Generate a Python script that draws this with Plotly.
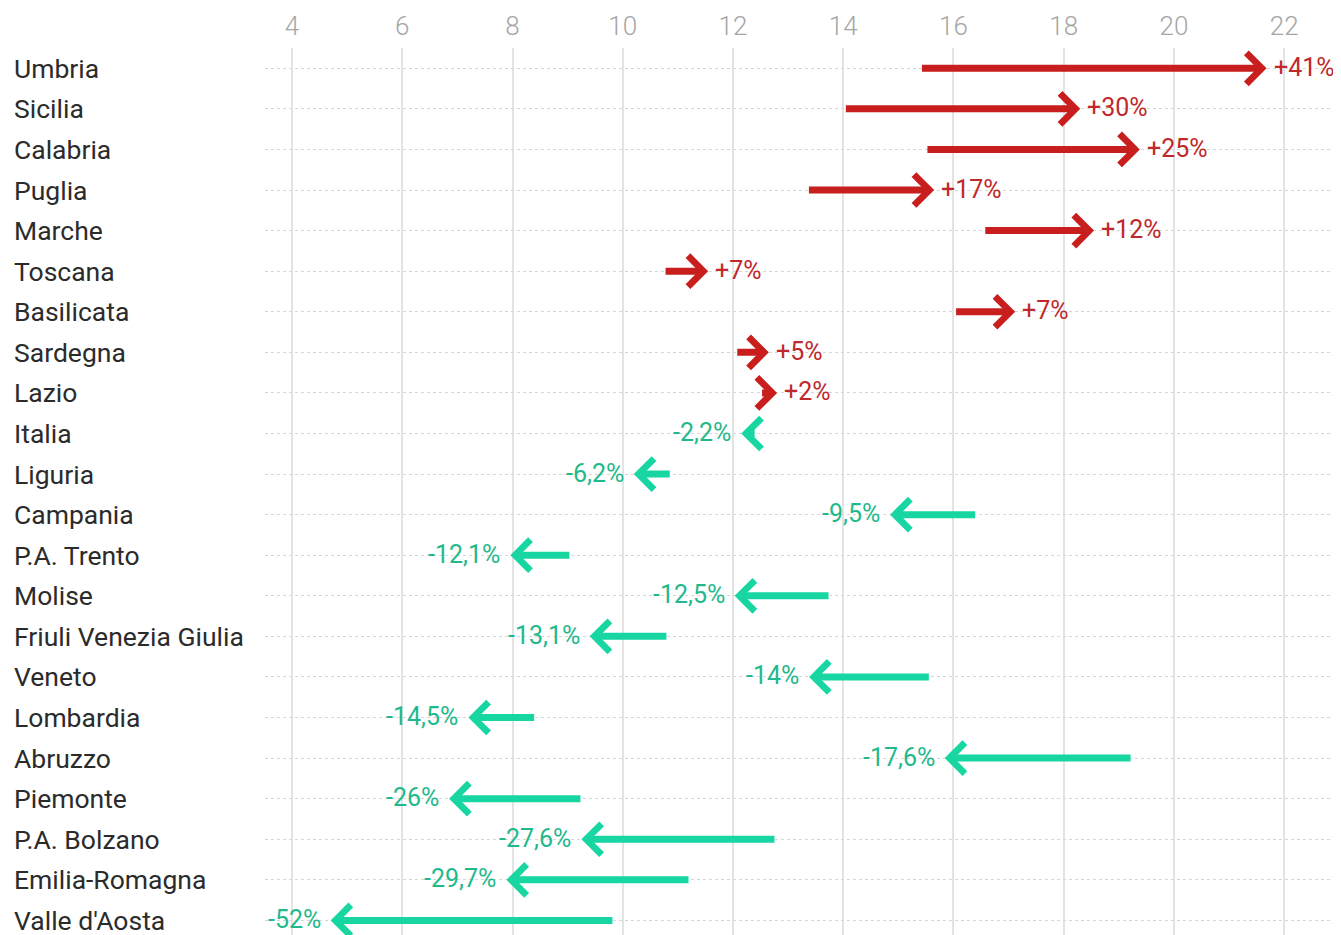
import plotly.graph_objects as go

# data: regions, start value and end value, change labels
regions = ["Umbria", "Sicilia", "Calabria", "Puglia", "Marche", "Toscana",
           "Basilicata", "Sardegna", "Lazio", "Italia", "Liguria", "Campania",
           "P.A. Trento", "Molise", "Friuli Venezia Giulia", "Veneto",
           "Lombardia", "Abruzzo", "Piemonte", "P.A. Bolzano",
           "Emilia-Romagna", "Valle d'Aosta"]
start_vals = [15.40, 14.02, 15.50, 13.35, 16.55, 10.75, 16.02, 12.05, 12.50,
              12.42, 10.88, 16.42, 9.06, 13.76, 10.82, 15.58, 8.42, 19.24,
              9.26, 12.78, 11.22, 9.84]
end_vals = [21.68, 18.30, 19.38, 15.65, 18.55, 11.55, 17.12, 12.65, 12.80,
            12.15, 10.20, 14.85, 7.96, 12.03, 9.40, 13.38, 7.20, 15.84,
            6.85, 9.25, 7.89, 4.70]
change_labels = ["+41%", "+30%", "+25%", "+17%", "+12%", "+7%", "+7%", "+5%",
                 "+2%", "-2,2%", "-6,2%", "-9,5%", "-12,1%", "-12,5%",
                 "-13,1%", "-14%", "-14,5%", "-17,6%", "-26%", "-27,6%",
                 "-29,7%", "-52%"]
x_ticks = [4, 6, 8, 10, 12, 14, 16, 18, 20, 22]

RED = "#c81e1e"
GREEN = "#17d6a2"
RED_TXT = "#c0282b"
GREEN_TXT = "#1fb98b"
FONT = "Roboto"

# page body has an 8px margin, so the figure is 8px smaller than the window
W, H = 1333, 927

fig = go.Figure()

# invisible trace so the axes exist
fig.add_trace(go.Scatter(x=start_vals + end_vals,
                         y=list(range(len(regions))) * 2,
                         mode="markers", marker=dict(opacity=0),
                         hoverinfo="skip", showlegend=False))

annotations = []
for i, (name, s, e, lab) in enumerate(zip(regions, start_vals, end_vals, change_labels)):
    up = e > s
    col = RED if up else GREEN
    # arrow from start to end
    annotations.append(dict(
        x=e, y=i, ax=s, ay=i, xref="x", yref="y", axref="x", ayref="y",
        text="", showarrow=True, arrowhead=4, arrowsize=0.85,
        arrowwidth=7, arrowcolor=col, standoff=0, startstandoff=0))
    # percentage label next to arrow tip
    annotations.append(dict(
        x=e, y=i, xref="x", yref="y", text=lab, showarrow=False,
        xanchor="left" if up else "right", xshift=5 if up else -8,
        yshift=1,
        font=dict(family=FONT, size=25, color=RED_TXT if up else GREEN_TXT)))
    # region name on the left
    annotations.append(dict(
        x=4 / W, y=i, xref="paper", yref="y", text=name,
        showarrow=False, xanchor="left",
        font=dict(family=FONT, size=26.5, color="#2b2b2b")))

fig.update_layout(
    width=W, height=H,
    margin=dict(l=0, r=0, t=40, b=0),
    paper_bgcolor="white", plot_bgcolor="white",
    showlegend=False,
    annotations=annotations,
    xaxis=dict(domain=[257 / W, 1], range=[3.51, 23.03], side="top",
               tickvals=x_ticks, ticks="", showline=False, zeroline=False,
               showgrid=True, gridcolor="#e3e3e3", gridwidth=2,
               ticklabelstandoff=7,
               tickfont=dict(family=FONT, size=26, color="#a6a6a6", weight=300)),
    yaxis=dict(range=[21.36, -0.5], tickvals=list(range(len(regions))),
               showticklabels=False, ticks="", showline=False,
               zeroline=False, showgrid=True, gridcolor="#d6d6d6",
               gridwidth=1, griddash="dot"),
)

fig.write_html("out.html")
